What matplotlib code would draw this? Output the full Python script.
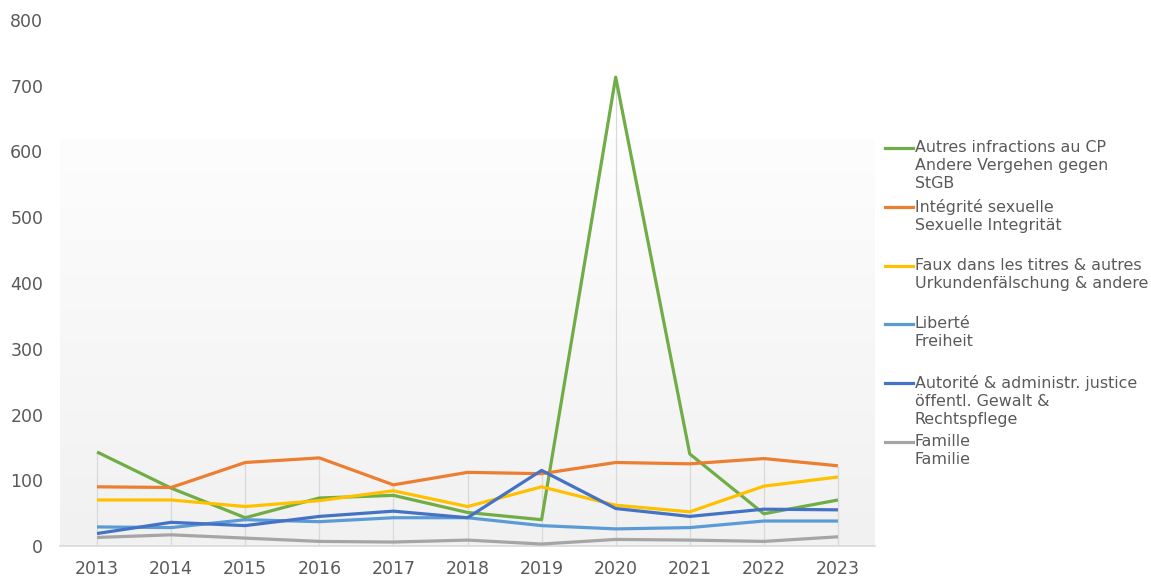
"""
Line chart: offences per category, 2013-2023
"""
import matplotlib.pyplot as plt
import numpy as np

years = list(range(2013, 2024))

autres = [143, 88, 43, 73, 77, 51, 40, 713, 140, 49, 70]
integrite = [90, 89, 127, 134, 93, 112, 110, 127, 125, 133, 122]
faux = [70, 70, 60, 69, 84, 60, 90, 62, 52, 91, 105]
liberte = [29, 28, 40, 37, 43, 43, 31, 26, 28, 38, 38]
autorite = [19, 36, 31, 45, 53, 43, 115, 57, 45, 56, 55]
famille = [13, 17, 12, 7, 6, 9, 3, 10, 9, 7, 14]

labels = [
    "Autres infractions au CP\nAndere Vergehen gegen\nStGB",
    "Intégrité sexuelle\nSexuelle Integrität",
    "Faux dans les titres & autres\nUrkundenfälschung & andere",
    "Liberté\nFreiheit",
    "Autorité & administr. justice\nöffentl. Gewalt &\nRechtspflege",
    "Famille\nFamilie",
]
series = [autres, integrite, faux, liberte, autorite, famille]
colors = ["#70ad47", "#ed7d31", "#ffc000", "#5b9bd5", "#4472c4", "#a5a5a5"]

plt.rcParams['font.family'] = ['DejaVu Sans']
text_color = "#595959"

fig = plt.figure(figsize=(11.51, 5.79), dpi=100)
fig.patch.set_facecolor('white')
W, H = 1151, 579
ax = fig.add_axes([60 / W, 1 - 546 / H, 815 / W, 526 / H])
ax.set_facecolor('white')

# soft gradient behind the lower part of the plot area
grad = np.linspace(0, 1, 256).reshape(-1, 1)
ax.imshow(grad, extent=[0, 1, 0, 0.774], transform=ax.transAxes,
          cmap=plt.matplotlib.colors.LinearSegmentedColormap.from_list('g', ['#fdfdfd', '#f1f1f1']),
          aspect='auto', zorder=0)

# drop lines from the highest series at each year
tops = np.max(np.array(series), axis=0)
ax.vlines(years, 0, tops, color='#d9d9d9', linewidth=0.9, zorder=1)

for vals, c in zip(series, colors):
    ax.plot(years, vals, color=c, linewidth=2.3, zorder=3, solid_capstyle='butt')

ax.set_xlim(2012.5, 2023.5)
ax.set_ylim(0, 800)
ax.set_yticks(range(0, 801, 100))
ax.set_xticks(years)
ax.tick_params(length=0, labelsize=12.5, colors=text_color)
ax.tick_params(axis='y', pad=12)
ax.tick_params(axis='x', pad=10)
for s in ['top', 'right', 'left']:
    ax.spines[s].set_visible(False)
ax.spines['bottom'].set_color('#d9d9d9')
ax.spines['bottom'].set_linewidth(1.2)

# legend drawn by hand so the handle sits on the first line
for i, (lab, c) in enumerate(zip(labels, colors)):
    y = 148 + 58.8 * i
    fig.add_artist(plt.Line2D([885 / W, 913 / W], [1 - y / H, 1 - y / H],
                              color=c, linewidth=2.3, transform=fig.transFigure))
    fig.text(915 / W, 1 - (y - 8) / H, lab, fontsize=11.4, color=text_color,
             ha='left', va='top', linespacing=1.25)

fig.savefig('out.png', dpi=100, facecolor='white')
